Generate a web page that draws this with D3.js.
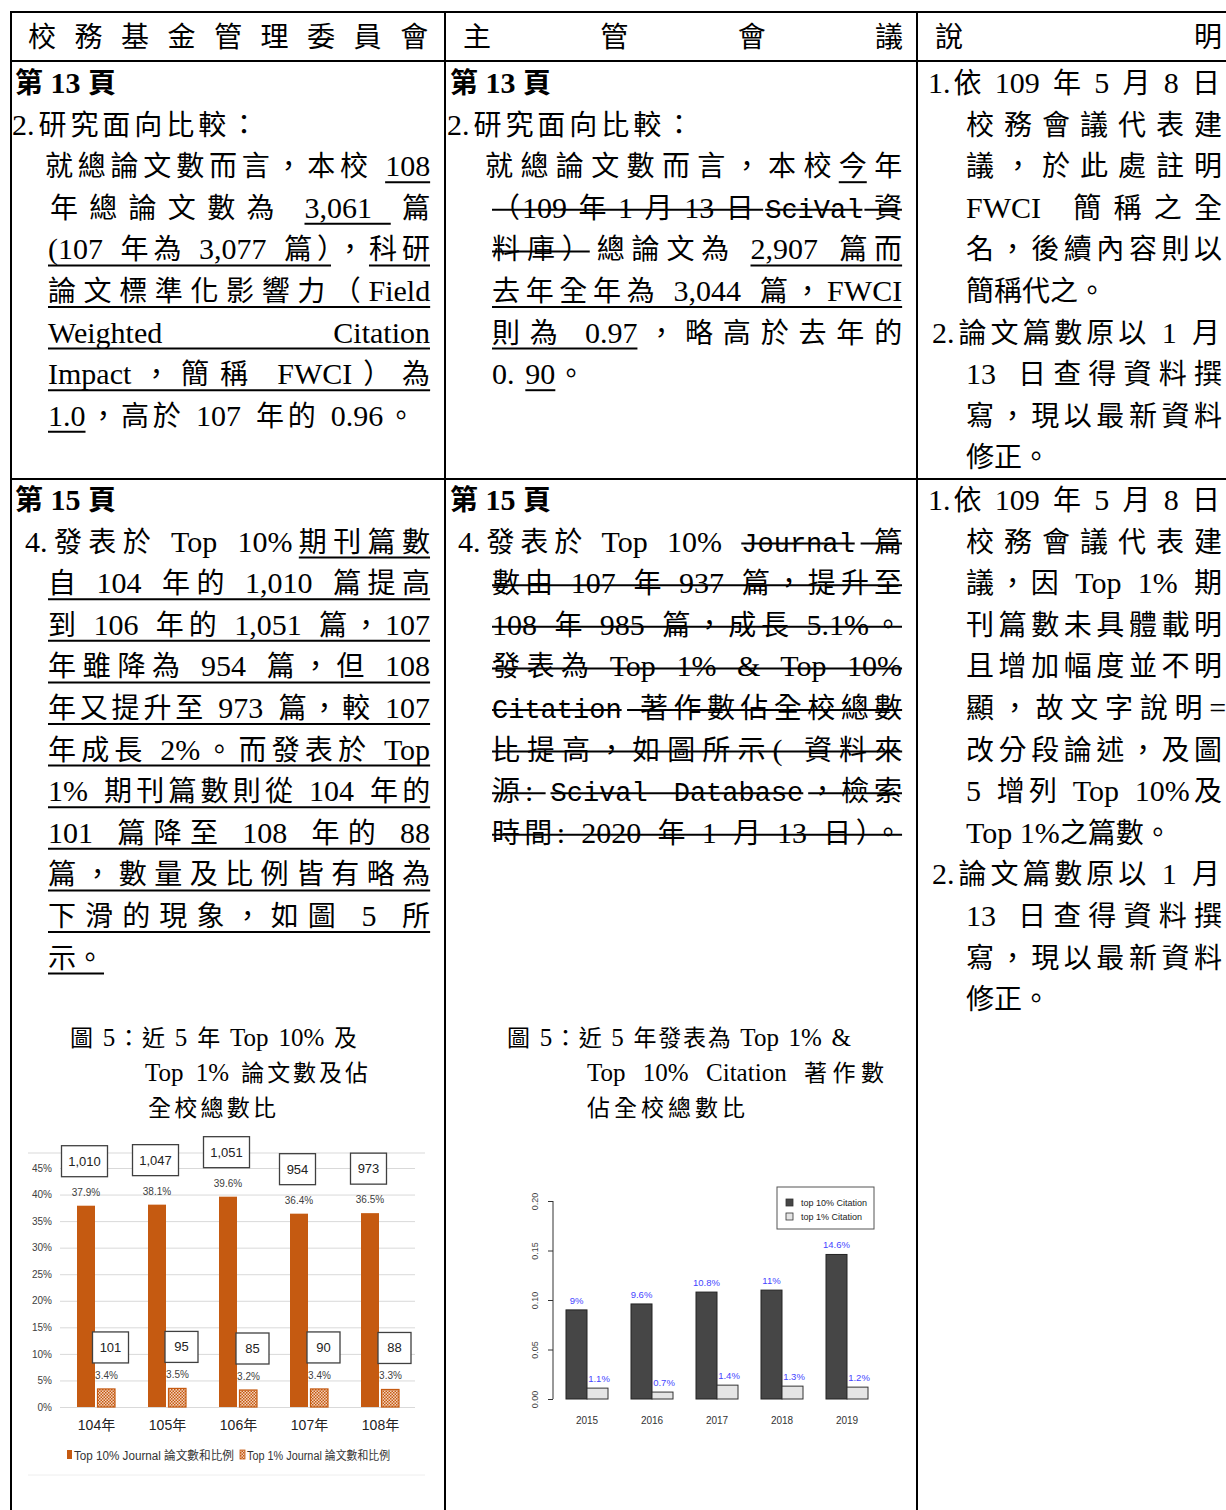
<!DOCTYPE html>
<html>
<head>
<meta charset="utf-8">
<script src="https://d3js.org/d3.v7.min.js"></script>
<style>
  body { margin: 0; background: #fff; }
  svg text { white-space: pre; }
  .doc { font-family: "Liberation Serif", "Noto Sans CJK TC", serif; font-size: 28px; fill: #000; }
  .doc .lat { font-size: 30px; }
  .cap { font-family: "Liberation Serif", "Noto Sans CJK TC", serif; font-size: 23px; fill: #000; }
  .cap .lat { font-size: 25px; }
  .doc .mono { font-family: "Liberation Mono", monospace; font-size: 27px; }
  .c1 { font-family: "Liberation Sans Narrow", "Liberation Sans", "Noto Sans CJK TC", sans-serif; }
  .c2 { font-family: "Liberation Sans", Arial, sans-serif; }
</style>
</head>
<body>
<svg id="page" width="1226" height="1510"></svg>
<script>
// ---- chart 1 data (圖5 left) ----
var years1 = ["104年", "105年", "106年", "107年", "108年"];
var top10Pct = [0.379, 0.381, 0.396, 0.364, 0.365];
var top1Pct = [0.034, 0.035, 0.032, 0.034, 0.033];
var top10Count = ["1,010", "1,047", "1,051", "954", "973"];
var top1Count = ["101", "95", "85", "90", "88"];
var pctTicks = [0, 0.05, 0.10, 0.15, 0.20, 0.25, 0.30, 0.35, 0.40, 0.45];
var legend1 = ["Top 10% Journal 論文數和比例", "Top 1% Journal 論文數和比例"];

// ---- chart 2 data (圖5 right) ----
var years2 = ["2015", "2016", "2017", "2018", "2019"];
var cite10 = [0.09, 0.096, 0.108, 0.11, 0.146];
var cite1 = [0.011, 0.007, 0.014, 0.013, 0.012];
var citeTicks = [0, 0.05, 0.10, 0.15, 0.20];
var legend2 = ["top 10% Citation", "top 1% Citation"];

// ---- document text ----
var U = "u", S = "s";
var header = [
  {x: 28, end: 428, segs: [["校務基金管理委員會"]]},
  {x: 463, end: 903, segs: [["主管會議"]]},
  {x: 935, end: 1222, segs: [["說明"]]}
];
var row1col1 = [
  {x: 15, b: 1, segs: [["第 13 頁"]]},
  {x: 12, end: 258, segs: [["2.研究面向比較："]]},
  {x: 45, end: 430, segs: [["就總論文數而言，本校 "], ["108", U]]},
  {x: 50, end: 430, segs: [["年總論文數為 "], ["3,061 ", U], ["篇"]]},
  {x: 48, end: 430, segs: [["(107 年為 3,077 篇）", U], ["，"], ["科研", U]]},
  {x: 48, end: 430, segs: [["論文標準化影響力（Field", U]]},
  {x: 48, split: 430, segs: [["Weighted", U], ["Citation", U]]},
  {x: 48, end: 430, segs: [["Impact，簡稱 FWCI）為", U]]},
  {x: 48, end: 415, segs: [["1.0", U], ["，高於 107 年的 0.96。"]]}
];
var row1col2 = [
  {x: 450, b: 1, segs: [["第 13 頁"]]},
  {x: 447, end: 693, segs: [["2.研究面向比較："]]},
  {x: 485, end: 902, segs: [["就總論文數而言，本校"], ["今", U], ["年"]]},
  {x: 492, end: 902, segs: [["（109 年 1 月 13 日 ", S], ["SciVal", S, "m"], [" 資", S]]},
  {x: 492, end: 902, segs: [["料庫）", S], ["總論文為 "], ["2,907 篇而", U]]},
  {x: 492, end: 902, segs: [["去年全年為 3,044 篇，FWCI", U]]},
  {x: 492, end: 902, segs: [["則為 0.97", U], ["，略高於去年的"]]},
  {x: 492, end: 585, segs: [["0. "], ["90", U], ["。"]]}
];
var row1col3 = [
  {x: 928, end: 1220, segs: [["1.依 109 年 5 月 8 日"]]},
  {x: 966, end: 1222, segs: [["校務會議代表建"]]},
  {x: 966, end: 1222, segs: [["議，於此處註明"]]},
  {x: 966, end: 1222, segs: [["FWCI 簡稱之全"]]},
  {x: 966, end: 1222, segs: [["名，後續內容則以"]]},
  {x: 966, segs: [["簡稱代之。"]]},
  {x: 932, end: 1220, segs: [["2.論文篇數原以 1 月"]]},
  {x: 966, end: 1222, segs: [["13 日查得資料撰"]]},
  {x: 966, end: 1222, segs: [["寫，現以最新資料"]]},
  {x: 966, segs: [["修正。"]]}
];
var row2col1 = [
  {x: 15, b: 1, segs: [["第 15 頁"]]},
  {x: 25, end: 430, segs: [["4.發表於 Top 10%"], ["期刊篇數", U]]},
  {x: 48, end: 430, segs: [["自 104 年的 1,010 篇提高", U]]},
  {x: 48, end: 430, segs: [["到 106 年的 1,051 篇，107", U]]},
  {x: 48, end: 430, segs: [["年雖降為 954 篇，但 108", U]]},
  {x: 48, end: 430, segs: [["年又提升至 973 篇，較 107", U]]},
  {x: 48, end: 430, segs: [["年成長 2%。而發表於 Top", U]]},
  {x: 48, end: 430, segs: [["1% 期刊篇數則從 104 年的", U]]},
  {x: 48, end: 430, segs: [["101 篇降至 108 年的 88", U]]},
  {x: 48, end: 430, segs: [["篇，數量及比例皆有略為", U]]},
  {x: 48, end: 430, segs: [["下滑的現象，如圖 5 所", U]]},
  {x: 48, segs: [["示。", U]]}
];
var row2col2 = [
  {x: 450, b: 1, segs: [["第 15 頁"]]},
  {x: 458, end: 902, segs: [["4.發表於 Top 10% "], ["Journal", S, "m"], [" 篇", S]]},
  {x: 492, end: 902, segs: [["數由 107 年 937 篇，提升至", S]]},
  {x: 492, end: 902, segs: [["108 年 985 篇，成長 5.1%。", S]]},
  {x: 492, end: 902, segs: [["發表為 Top 1% & Top 10%", S]]},
  {x: 492, end: 902, segs: [["Citation", S, "m"], [" 著作數佔全校總數", S]]},
  {x: 492, end: 902, segs: [["比提高，如圖所示( 資料來", S]]},
  {x: 492, end: 902, segs: [["源: ", S], ["Scival Database", S, "m"], ["，檢索", S]]},
  {x: 492, end: 902, segs: [["時間: 2020 年 1 月 13 日）。", S]]}
];
var row2col3 = [
  {x: 928, end: 1220, segs: [["1.依 109 年 5 月 8 日"]]},
  {x: 966, end: 1222, segs: [["校務會議代表建"]]},
  {x: 966, end: 1222, segs: [["議，因 Top 1% 期"]]},
  {x: 966, end: 1222, segs: [["刊篇數未具體載明"]]},
  {x: 966, end: 1222, segs: [["且增加幅度並不明"]]},
  {x: 966, end: 1226, segs: [["顯，故文字說明="]]},
  {x: 966, end: 1222, segs: [["改分段論述，及圖"]]},
  {x: 966, end: 1222, segs: [["5 增列 Top 10%及"]]},
  {x: 966, segs: [["Top 1%之篇數。"]]},
  {x: 932, end: 1220, segs: [["2.論文篇數原以 1 月"]]},
  {x: 966, end: 1222, segs: [["13 日查得資料撰"]]},
  {x: 966, end: 1222, segs: [["寫，現以最新資料"]]},
  {x: 966, segs: [["修正。"]]}
];
var captions = [
  {x: 70, end: 357, segs: [["圖 5：近 5 年 Top 10% 及"]]},
  {x: 145, end: 368, segs: [["Top 1% 論文數及佔"]]},
  {x: 148, end: 276, segs: [["全校總數比"]]},
  {x: 507, end: 851, segs: [["圖 5：近 5 年發表為 Top 1% &"]]},
  {x: 587, end: 884, segs: [["Top 10% Citation 著作數"]]},
  {x: 587, end: 745, segs: [["佔全校總數比"]]}
];

var svg = d3.select("#page");
var LH = 41.6;

function isWide(c) { return c.charCodeAt(0) >= 0x2E80; }

// split a string into runs of CJK / latin characters
function runs(str) {
  var out = [];
  for (var i = 0; i < str.length; i++) {
    var w = isWide(str[i]);
    if (out.length && out[out.length - 1].w == w) out[out.length - 1].s += str[i];
    else out.push({s: str[i], w: w});
  }
  return out;
}

// draw one text line, justify it Word-style (stretch only around CJK and spaces)
function drawLine(g, L, cy, cls) {
  var t = g.append("text").attr("class", cls)
    .attr("x", L.x).attr("y", cy + (cls == "cap" ? 8 : 10));
  if (L.b) t.attr("font-weight", 700);
  var segs = L.split ? [L.segs[0]] : L.segs;
  var spans = [];
  segs.forEach(function(s) {
    runs(s[0]).forEach(function(r) {
      var sp = t.append("tspan").text(r.s);
      if (s[2] == "m") sp.attr("class", "mono");
      else if (!r.w) sp.attr("class", "lat");
      spans.push({sp: sp, s: r.s});
    });
  });
  var node = t.node();
  if (L.end) {
    var full = segs.map(function(s) { return s[0]; }).join("");
    var extra = (L.end - L.x) - node.getComputedTextLength();
    var elig = [], n = 0;
    for (var i = 0; i < full.length; i++) {
      var e = i > 0 && (isWide(full[i - 1]) || isWide(full[i]) || full[i - 1] == " " || full[i] == " ");
      elig.push(e);
      if (e) n++;
    }
    if (n > 0) {
      var d = extra / n, k = 0;
      spans.forEach(function(o) {
        var list = [];
        for (var j = 0; j < o.s.length; j++) list.push(elig[k++] ? d.toFixed(2) : 0);
        o.sp.attr("dx", list.join(" "));
      });
    } else {
      t.attr("textLength", L.end - L.x).attr("lengthAdjust", "spacing");
    }
  }
  if (L.split) {
    var t2 = g.append("text").attr("class", cls).attr("x", L.split).attr("y", cy + 10)
      .attr("text-anchor", "end");
    t2.append("tspan").attr("class", "lat").text(L.segs[1][0]);
    g.append("line").attr("x1", L.x).attr("x2", L.split)
      .attr("y1", cy + 16).attr("y2", cy + 16)
      .attr("stroke", "#000").attr("stroke-width", 2);
    return;
  }
  var idx = 0;
  segs.forEach(function(s) {
    var n = s[0].length;
    if (s[1]) {
      var a = node.getExtentOfChar(idx), b = node.getExtentOfChar(idx + n - 1);
      var yy = s[1] == U ? cy + 16 : cy + 2;
      g.append("line").attr("x1", a.x).attr("x2", b.x + b.width)
        .attr("y1", yy).attr("y2", yy)
        .attr("stroke", "#000").attr("stroke-width", 2);
    }
    idx += n;
  });
}

function drawCell(lines, top) {
  var g = svg.append("g");
  lines.forEach(function(L, i) { drawLine(g, L, top + i * LH, "doc"); });
}

// table lines
var grid = svg.append("g").attr("stroke", "#000").attr("stroke-width", 2);
[12, 61, 479].forEach(function(y) {
  grid.append("line").attr("x1", 10).attr("x2", 1226).attr("y1", y).attr("y2", y);
});
[11, 445, 917].forEach(function(x) {
  grid.append("line").attr("x1", x).attr("x2", x).attr("y1", 11).attr("y2", 1510);
});

var hg = svg.append("g");
header.forEach(function(L) { drawLine(hg, L, 37, "doc"); });
drawCell(row1col1, 83);
drawCell(row1col2, 83);
drawCell(row1col3, 83);
drawCell(row2col1, 500);
drawCell(row2col2, 500);
drawCell(row2col3, 500);
var cg = svg.append("g");
captions.forEach(function(L, i) { drawLine(cg, L, 1038 + (i % 3) * 35, "cap"); });

// ================= chart 1 =================
var orange = "#C55A11";
var defs = svg.append("defs");
var pat = defs.append("pattern").attr("id", "hatch").attr("patternUnits", "userSpaceOnUse")
  .attr("width", 3).attr("height", 3);
pat.append("rect").attr("width", 3).attr("height", 3).attr("fill", "#f3d2bd");
pat.append("rect").attr("width", 1.5).attr("height", 1.5).attr("fill", orange);
pat.append("rect").attr("x", 1.5).attr("y", 1.5).attr("width", 1.5).attr("height", 1.5).attr("fill", orange);

var c1 = svg.append("g").attr("class", "c1");
var y1 = d3.scaleLinear().domain([0, 0.45]).range([1407, 1168]);
var x1 = d3.scaleBand().domain(years1).range([60, 415]);

c1.append("line").attr("x1", 28).attr("x2", 425).attr("y1", 1153).attr("y2", 1153).attr("stroke", "#d9d9d9");
c1.append("line").attr("x1", 28).attr("x2", 425).attr("y1", 1475).attr("y2", 1475).attr("stroke", "#eeeeee");

var ax1 = c1.append("g").attr("transform", "translate(60,0)")
  .call(d3.axisLeft(y1).tickValues(pctTicks).tickFormat(d3.format(".0%")).tickSize(-355).tickPadding(8));
ax1.select(".domain").remove();
ax1.selectAll(".tick line").attr("stroke", "#d9d9d9");
ax1.selectAll(".tick text").attr("font-size", 10).attr("fill", "#404040").attr("font-family", null);

var gx = function(d) { return x1(d) + x1.bandwidth() / 2; };
c1.selectAll(".b10").data(years1).join("rect")
  .attr("x", function(d) { return gx(d) - 18.5; })
  .attr("y", function(d, i) { return y1(top10Pct[i]); })
  .attr("width", 18).attr("height", function(d, i) { return y1(0) - y1(top10Pct[i]); })
  .attr("fill", orange);
c1.selectAll(".b1").data(years1).join("rect")
  .attr("x", function(d) { return gx(d) + 2; })
  .attr("y", function(d, i) { return y1(top1Pct[i]); })
  .attr("width", 17.5).attr("height", function(d, i) { return y1(0) - y1(top1Pct[i]); })
  .attr("fill", "url(#hatch)").attr("stroke", orange).attr("stroke-width", 1.2);

// value labels
c1.selectAll(".l10").data(years1).join("text")
  .attr("x", function(d) { return gx(d) - 9.5; })
  .attr("y", function(d, i) { return y1(top10Pct[i]) - 10; })
  .attr("text-anchor", "middle").attr("font-size", 10).attr("fill", "#404040")
  .text(function(d, i) { return d3.format(".1%")(top10Pct[i]); });
c1.selectAll(".l1").data(years1).join("text")
  .attr("x", function(d) { return gx(d) + 11; })
  .attr("y", function(d, i) { return y1(top1Pct[i]) - 10; })
  .attr("text-anchor", "middle").attr("font-size", 10).attr("fill", "#404040")
  .text(function(d, i) { return d3.format(".1%")(top1Pct[i]); });

// count boxes
function countBox(cx, top, label) {
  var w = label.length > 3 ? 46 : (label.length == 3 ? 36 : 33);
  c1.append("rect").attr("x", cx - w / 2).attr("y", top).attr("width", w).attr("height", 31)
    .attr("fill", "#fff").attr("stroke", "#404040").attr("stroke-width", 1.3);
  c1.append("text").attr("x", cx).attr("y", top + 20).attr("text-anchor", "middle")
    .attr("font-size", 13).attr("fill", "#222").text(label);
}
years1.forEach(function(d, i) {
  countBox(gx(d) - 11, y1(top10Pct[i]) - 60, top10Count[i]);
  countBox(gx(d) + 15, y1(top1Pct[i]) - 57, top1Count[i]);
});

// x labels
c1.selectAll(".xl").data(years1).join("text")
  .attr("x", function(d) { return gx(d) + 1; }).attr("y", 1430)
  .attr("text-anchor", "middle").attr("font-size", 14).attr("fill", "#222")
  .text(function(d) { return d; });

// legend
c1.append("rect").attr("x", 67).attr("y", 1450).attr("width", 5).attr("height", 9).attr("fill", orange);
c1.append("text").attr("x", 74).attr("y", 1460).attr("font-size", 12).attr("fill", "#333")
  .attr("textLength", 160).attr("lengthAdjust", "spacingAndGlyphs").text(legend1[0]);
c1.append("rect").attr("x", 240).attr("y", 1450).attr("width", 5).attr("height", 9)
  .attr("fill", "url(#hatch)").attr("stroke", orange).attr("stroke-width", 0.8);
c1.append("text").attr("x", 247).attr("y", 1460).attr("font-size", 12).attr("fill", "#333")
  .attr("textLength", 143).attr("lengthAdjust", "spacingAndGlyphs").text(legend1[1]);

// ================= chart 2 =================
var c2 = svg.append("g").attr("class", "c2");
var y2 = d3.scaleLinear().domain([0, 0.2]).range([1399, 1201]);
var x2 = d3.scaleBand().domain(years2).range([554.5, 879.5]);
var cx2 = function(d) { return x2(d) + x2.bandwidth() / 2; };

var ax2 = c2.append("g").attr("transform", "translate(553,0)")
  .call(d3.axisLeft(y2).tickValues(citeTicks).tickFormat(d3.format(".2f")).tickSize(5).tickPadding(12));
ax2.selectAll("path, line").attr("stroke", "#333");
ax2.select(".domain").attr("d", "M0," + y2(0) + "V" + y2(0.2));
ax2.selectAll(".tick text").attr("font-size", 9).attr("fill", "#444").attr("font-family", null)
  .attr("text-anchor", "middle").attr("x", -18).attr("dy", "0.32em")
  .attr("transform", "rotate(-90,-18,0)");

c2.selectAll(".d10").data(years2).join("rect")
  .attr("x", function(d) { return cx2(d) - 21; })
  .attr("y", function(d, i) { return y2(cite10[i]); })
  .attr("width", 21).attr("height", function(d, i) { return y2(0) - y2(cite10[i]); })
  .attr("fill", "#464646").attr("stroke", "#222").attr("stroke-width", 1);
c2.selectAll(".d1").data(years2).join("rect")
  .attr("x", function(d) { return cx2(d); })
  .attr("y", function(d, i) { return y2(cite1[i]); })
  .attr("width", 21).attr("height", function(d, i) { return y2(0) - y2(cite1[i]); })
  .attr("fill", "#e5e5e5").attr("stroke", "#333").attr("stroke-width", 1);

var pfmt = function(v) { return (+(v * 100).toFixed(1)) + "%"; };
c2.selectAll(".t10").data(years2).join("text")
  .attr("x", function(d) { return cx2(d) - 10.5; })
  .attr("y", function(d, i) { return y2(cite10[i]) - 6; })
  .attr("text-anchor", "middle").attr("font-size", 9.5).attr("fill", "#4646ff")
  .text(function(d, i) { return pfmt(cite10[i]); });
c2.selectAll(".t1").data(years2).join("text")
  .attr("x", function(d) { return cx2(d) + 12; })
  .attr("y", function(d, i) { return y2(cite1[i]) - 6; })
  .attr("text-anchor", "middle").attr("font-size", 9.5).attr("fill", "#4646ff")
  .text(function(d, i) { return pfmt(cite1[i]); });

c2.selectAll(".xl2").data(years2).join("text")
  .attr("x", function(d) { return cx2(d); }).attr("y", 1424)
  .attr("text-anchor", "middle").attr("font-size", 10).attr("fill", "#333")
  .text(function(d) { return d; });

c2.append("rect").attr("x", 777).attr("y", 1187).attr("width", 97).attr("height", 42)
  .attr("fill", "#fff").attr("stroke", "#555").attr("stroke-width", 1);
[["#464646", legend2[0]], ["#e5e5e5", legend2[1]]].forEach(function(e, i) {
  c2.append("rect").attr("x", 786).attr("y", 1199 + i * 14).attr("width", 7).attr("height", 7)
    .attr("fill", e[0]).attr("stroke", "#333").attr("stroke-width", 0.8);
  c2.append("text").attr("x", 801).attr("y", 1206 + i * 14).attr("font-size", 9).attr("fill", "#222").text(e[1]);
});
</script>
</body>
</html>
